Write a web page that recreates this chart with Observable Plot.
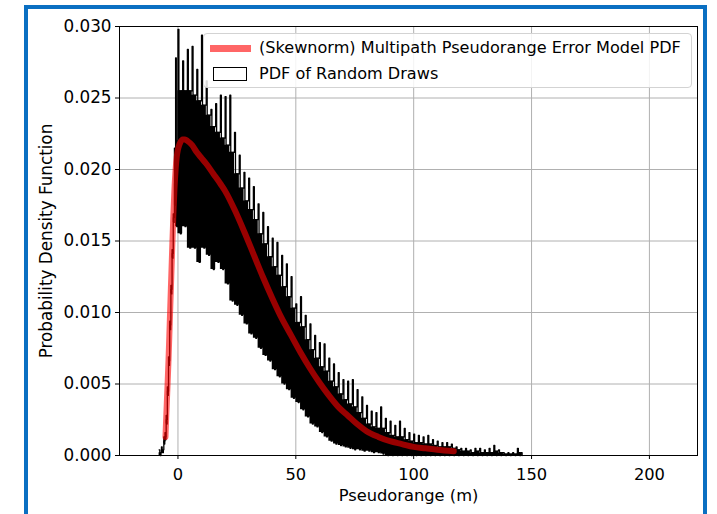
<!DOCTYPE html>
<html><head><meta charset="utf-8">
<script src="https://cdn.jsdelivr.net/npm/d3@7"></script>
<script src="https://cdn.jsdelivr.net/npm/@observablehq/plot@0.6"></script>
<style>
html,body{margin:0;padding:0;background:#fff;}
body{width:717px;height:514px;overflow:hidden;position:relative;font-family:"DejaVu Sans",sans-serif;}
#chart{position:absolute;left:0;top:0;}
#frame{position:absolute;left:24px;top:5px;width:683px;height:530px;box-sizing:border-box;border:4px solid #0a6fc2;border-bottom:none;pointer-events:none;}
#legend{position:absolute;left:203px;top:33px;width:489px;height:55px;box-sizing:border-box;border:1px solid #d3d3d3;border-radius:4px;background:rgba(255,255,255,0.85);font-size:16.1px;color:#000;}
#legend .t{position:absolute;left:55px;white-space:nowrap;line-height:18px;}
#legend .sw1{position:absolute;left:6px;top:11px;width:41px;height:7px;background:#ff6666;}
#legend .sw2{position:absolute;left:9px;top:33px;width:34px;height:14px;box-sizing:border-box;border:1px solid #000;background:#fff;}
</style>
</head><body>
<div id="chart"></div>
<div id="legend">
  <div class="sw1"></div><div class="t" style="top:5px">(Skewnorm) Multipath Pseudorange Error Model PDF</div>
  <div class="sw2"></div><div class="t" style="top:31px">PDF of Random Draws</div>
</div>
<div id="frame"></div>
<script>
// Axis ticks
const xTicks = [0, 50, 100, 150, 200];
const yTicks = [0, 0.005, 0.010, 0.015, 0.020, 0.025, 0.030];

// Histogram of random draws (bin positions, spike tops, dense-band top, band bottom)
const histX = [-8, -7, -6, -5.5, -5, -4.5, -4, -3.5, -3, -2.5, -2, -1.5, -1,
  0, 2, 4, 6, 8, 10, 12, 14, 16, 18, 20, 22, 24, 26, 28, 30, 32, 34, 36, 38, 40,
  42, 44, 46, 48, 50, 52, 54, 56, 58, 60, 62, 64, 66, 68, 70, 72, 74, 76, 78, 80,
  82, 84, 86, 88, 90, 92, 94, 96, 98, 100, 102, 104, 106, 108, 110, 112, 114, 116,
  118, 120, 122, 124, 126, 128, 130, 132, 134, 136, 138, 140, 142, 144, 146];
const histUpper = [0.0004, 0.0006, 0.0013, 0.0016, 0.0028, 0.0048, 0.0069, 0.0094, 0.0119, 0.0144, 0.0169, 0.0215, 0.0278,
  0.0298, 0.0276, 0.0284, 0.0286, 0.0270, 0.0294, 0.0262, 0.0242, 0.0246, 0.0252, 0.0251, 0.0252, 0.0226, 0.0210, 0.0198,
  0.0194, 0.0188, 0.0176, 0.0170, 0.0160, 0.0152, 0.0149, 0.0140, 0.0134, 0.0125, 0.0106, 0.0111, 0.0098, 0.0092, 0.0084,
  0.0079, 0.0078, 0.0068, 0.0064, 0.0058, 0.0053, 0.0052, 0.0053, 0.0046, 0.0041, 0.0035, 0.0031, 0.0030, 0.0034, 0.0026,
  0.0024, 0.0021, 0.0024, 0.0019, 0.0016, 0.0015, 0.0014, 0.0013, 0.0014, 0.0011, 0.0010, 0.0009, 0.0009, 0.0008, 0.0006,
  0.0005, 0.0005, 0.0004, 0.0005, 0.0005, 0.0004, 0.0005, 0.0007, 0.0004, 0.0002, 0.0002, 0.0002, 0.0005, 0.0];
const histCore = [0.0002, 0.0004, 0.0010, 0.0013, 0.0025, 0.0045, 0.0066, 0.0091, 0.0116, 0.0141, 0.0166, 0.0190, 0.0220,
  0.0255, 0.0255, 0.0255, 0.0252, 0.0248, 0.0245, 0.0238, 0.0230, 0.0226, 0.0222, 0.0217, 0.0212, 0.0197, 0.0187, 0.0178,
  0.0172, 0.0165, 0.0155, 0.0148, 0.0139, 0.0132, 0.0126, 0.0118, 0.0111, 0.0103, 0.0093, 0.0090, 0.0081, 0.0074, 0.0068,
  0.0062, 0.0059, 0.0052, 0.0048, 0.0043, 0.0039, 0.0036, 0.0034, 0.0030, 0.0026, 0.0022, 0.0020, 0.0019, 0.0019, 0.0016,
  0.0014, 0.0013, 0.0013, 0.0011, 0.0010, 0.0009, 0.0009, 0.0008, 0.0008, 0.0007, 0.0006, 0.0006, 0.0006, 0.0005, 0.0004,
  0.0003, 0.0003, 0.0002, 0.0003, 0.0002, 0.0002, 0.0002, 0.0003, 0.0002, 0.0001, 0.0001, 0.0001, 0.0002, 0.0];
const histLower = [0.0, 0.0002, 0.0008, 0.0011, 0.0022, 0.0042, 0.0063, 0.0088, 0.0113, 0.0138, 0.0163, 0.0175, 0.0160,
  0.0155, 0.0160, 0.0145, 0.0145, 0.0135, 0.0145, 0.0140, 0.0130, 0.0135, 0.0130, 0.0120, 0.0108, 0.0105, 0.0098, 0.0092,
  0.0085, 0.0082, 0.0075, 0.0070, 0.0066, 0.0060, 0.0055, 0.0050, 0.0046, 0.0040, 0.0037, 0.0032, 0.0027, 0.0022, 0.0020,
  0.0016, 0.0013, 0.0010, 0.0008, 0.0007, 0.0006, 0.0005, 0.0004, 0.0004, 0.0003, 0.0003, 0.0002, 0.0002, 0.0001, 0.0,
  0.0, 0.0, 0.0, 0.0, 0.0, 0.0, 0.0, 0.0, 0.0, 0.0, 0.0, 0.0, 0.0, 0.0, 0.0,
  0.0, 0.0, 0.0, 0.0, 0.0, 0.0, 0.0, 0.0, 0.0, 0.0, 0.0, 0.0, 0.0, 0.0];

// Skewnorm model PDF curve
const pdfX = [-5.3, -5, -4.5, -4, -3.5, -3, -2.5, -2, -1.5, -1, -0.5, 0, 0.5, 1, 2, 3, 4, 6, 8, 10, 12, 15, 18, 20,
  24, 28, 32, 36, 40, 44, 48, 52, 56, 60, 64, 68, 72, 76, 80, 85, 90, 95, 100, 105, 110, 117];
const pdfY = [0.0013, 0.0026, 0.0046, 0.0067, 0.0092, 0.0117, 0.0142, 0.0166, 0.0186, 0.0200, 0.0209, 0.0214, 0.0217,
  0.0219, 0.0221, 0.0221, 0.0220, 0.0217, 0.0212, 0.0208, 0.0204, 0.0197, 0.0190, 0.0185, 0.0172, 0.0157, 0.0141,
  0.0125, 0.0110, 0.0096, 0.0084, 0.0072, 0.0061, 0.0051, 0.0042, 0.0034, 0.0028, 0.0022, 0.0017, 0.0013, 0.0010,
  0.0008, 0.0006, 0.0005, 0.0004, 0.0003];

const hist = histX.map((x, i) => ({x, upper: histUpper[i], core: histCore[i], lower: histLower[i]}));
// step outline: a narrow spike to the top of each bin, a narrow dip to its bottom
const zig = [];
hist.forEach((d, i) => {
  const next = i < hist.length - 1 ? hist[i + 1].x : d.x;
  const w = next - d.x;
  zig.push({x: d.x, y: d.upper});
  if (w > 0) {
    const s = Math.min(0.4, w * 0.3);
    zig.push({x: d.x + s, y: d.core});
    zig.push({x: d.x + w / 2, y: d.lower});
    zig.push({x: d.x + w / 2 + s, y: d.core});
  }
});
const pdf = pdfX.map((x, i) => ({x, y: pdfY[i]}));

const chart = Plot.plot({
  width: 717, height: 514,
  marginLeft: 119, marginRight: 20, marginTop: 26, marginBottom: 59,
  style: {fontFamily: "DejaVu Sans", fontSize: "16px", background: "transparent", color: "#000", overflow: "visible"},
  x: {domain: [-24.8, 220.4]},
  y: {domain: [0, 0.030]},
  marks: [
    Plot.gridX(xTicks, {stroke: "#b0b0b0", strokeOpacity: 1, strokeWidth: 1}),
    Plot.gridY(yTicks, {stroke: "#b0b0b0", strokeOpacity: 1, strokeWidth: 1}),
    Plot.areaY(hist, {x: "x", y1: "lower", y2: "core", curve: "step-after", fill: "black"}),
    Plot.line(zig, {x: "x", y: "y", curve: "step-after", stroke: "black", strokeWidth: 1.3}),
    Plot.line(pdf, {x: "x", y: "y", stroke: "red", strokeOpacity: 0.6, strokeWidth: 6, curve: "monotone-x"}),
    Plot.frame({stroke: "black", strokeWidth: 1}),
    Plot.axisX(xTicks, {tickSize: 4, tickPadding: 9, tickFormat: d => d, fontSize: 16.3,
      label: "Pseudorange (m)", labelAnchor: "center", labelOffset: 45, labelArrow: "none"}),
    Plot.axisY(yTicks, {tickSize: 4, tickPadding: 4, tickFormat: d3.format(".3f"), fontSize: 16.8,
      label: "Probability Density Function", labelAnchor: "center", labelOffset: 79, labelArrow: "none"})
  ]
});
document.getElementById("chart").appendChild(chart);
</script>
</body></html>
